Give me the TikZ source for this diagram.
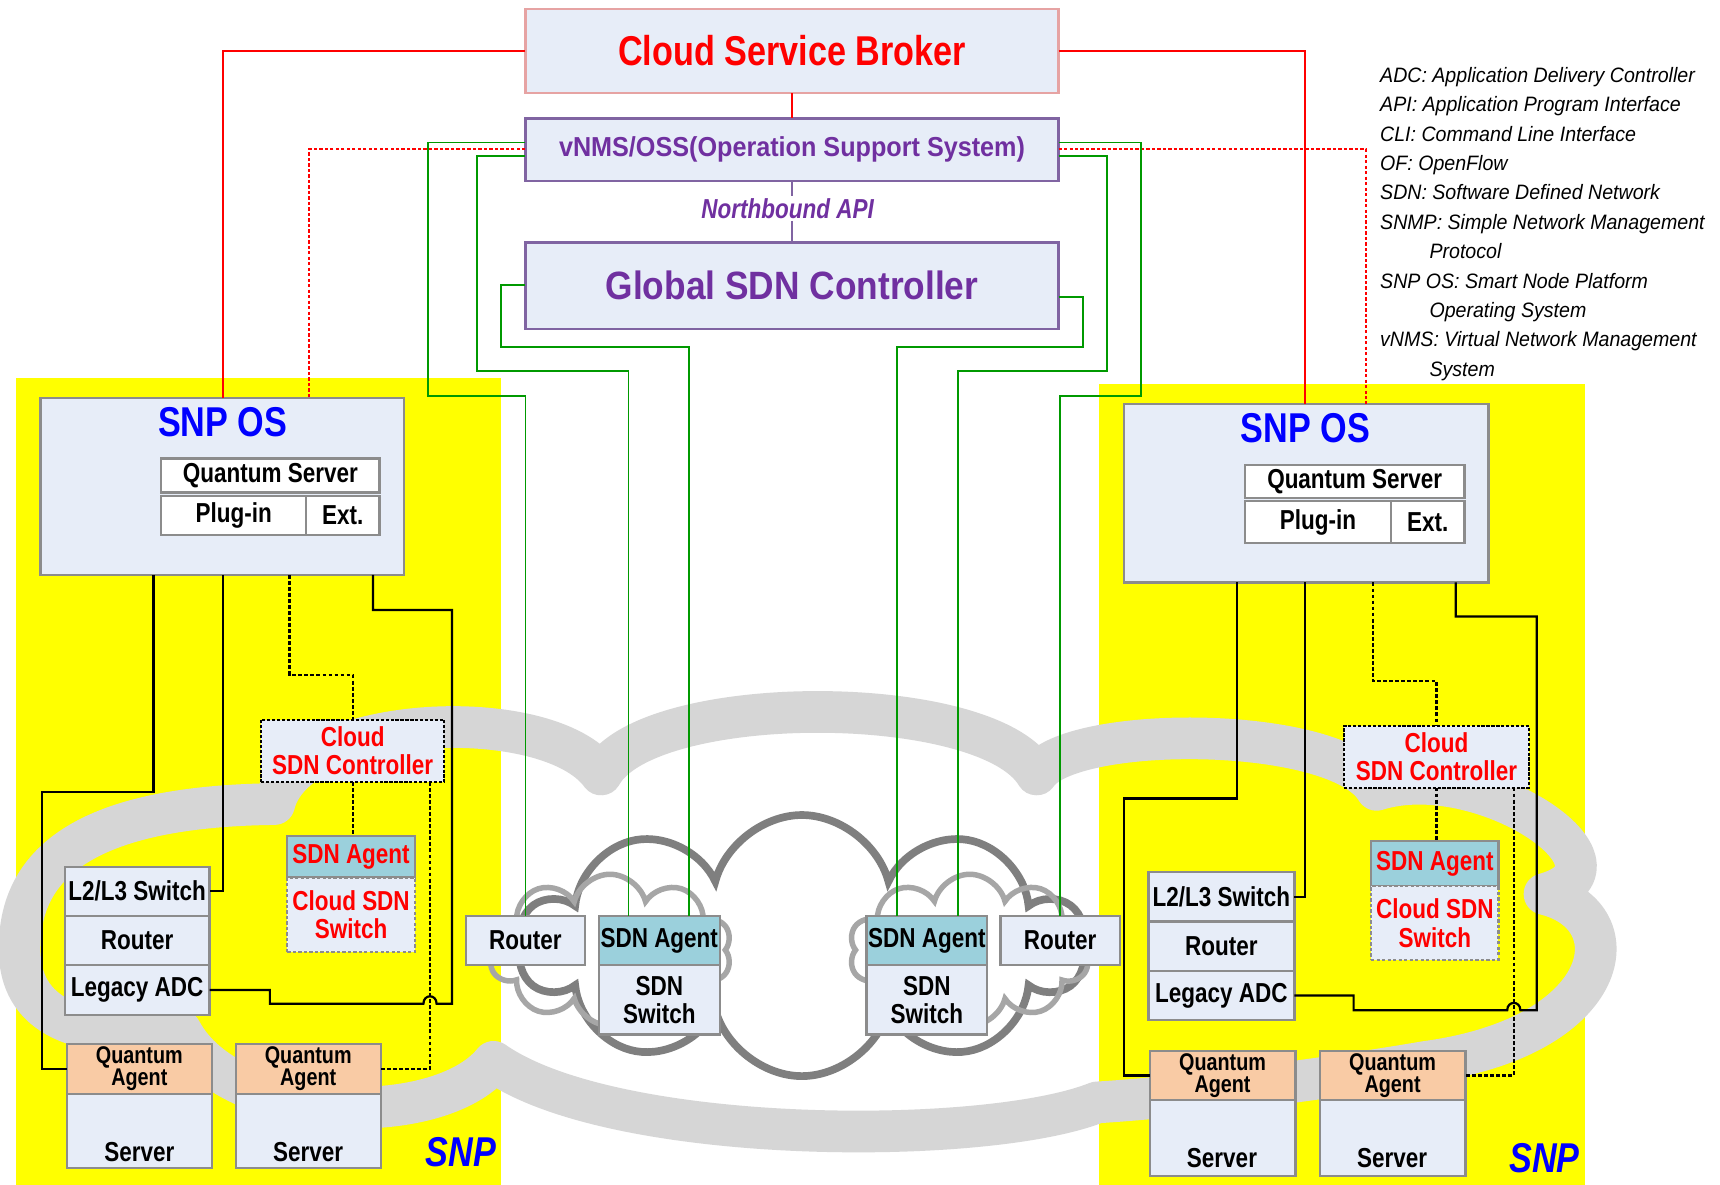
\documentclass[tikz,border=0pt]{standalone}
\usepackage{fontspec}
\setmainfont{Liberation Sans}[FakeStretch=0.82]
\newfontfamily\legendfont{Liberation Sans}[FakeStretch=0.94]
\usetikzlibrary{shapes.symbols}
\definecolor{boxfill}{HTML}{E7EDF8}
\definecolor{boxgray}{HTML}{8C8C8C}
\definecolor{brokerborder}{HTML}{E6A3A3}
\definecolor{purpletext}{HTML}{7030A0}
\definecolor{purpleborder}{HTML}{8064A2}
\definecolor{agentfill}{HTML}{9BD0DC}
\definecolor{qafill}{HTML}{F9CBA5}
\definecolor{ringgray}{HTML}{D6D6D6}
\definecolor{darkcloud}{HTML}{7F7F7F}
\definecolor{lightcloud}{HTML}{A6A6A6}
\definecolor{linkgreen}{HTML}{009900}
\definecolor{snpyellow}{HTML}{FFFF00}
\definecolor{snpblue}{HTML}{0000FF}
\definecolor{linkred}{HTML}{FF0000}
\begin{document}
\begin{tikzpicture}[x=1pt,y=-1pt,
  box/.style={draw=boxgray, line width=2pt, fill=boxfill, inner sep=0pt, outer sep=0pt,
    anchor=north west, align=center, font=\bfseries\fontsize{25}{26}\selectfont},
  sz/.style 2 args={minimum width=#1pt, minimum height=#2pt},
  whitebox/.style={box, fill=white},
  agent/.style={box, fill=agentfill},
  qagent/.style={box, fill=qafill, font=\bfseries\fontsize{22}{20}\selectfont},
  ctrl/.style={box, draw=black, dash pattern=on 3pt off 1.5pt, text=linkred},
  cswitch/.style={box, dash pattern=on 3pt off 2pt, text=linkred},
  lbl/.style={inner sep=0pt, font=\bfseries\fontsize{25}{26}\selectfont},
  ostitle/.style={inner sep=0pt, text=snpblue, font=\bfseries\fontsize{38}{40}\selectfont},
  snplabel/.style={inner sep=0pt, text=snpblue, font=\bfseries\itshape\fontsize{38}{40}\selectfont},
  blk/.style={draw=black, line width=2pt},
  blkdash/.style={draw=black, line width=2pt, dash pattern=on 3.5pt off 2pt},
  grn/.style={draw=linkgreen, line width=1.6pt},
  rd/.style={draw=linkred, line width=1.6pt},
  rddash/.style={draw=linkred, line width=1.6pt, dash pattern=on 3pt off 2pt},
]
\useasboundingbox (0,0) rectangle (1568,1080);
\fill[white] (0,0) rectangle (1568,1080);

% SNP platform areas
\fill[snpyellow] (15,345) rectangle (457,1080);
\fill[snpyellow] (1002,350) rectangle (1445,1080);

% large light-grey cloud ring
\draw[ringgray, line width=38pt, line join=round]
  (165,940) .. controls (60,950) and (15,920) .. (18,860)
  .. controls (20,780) and (90,735) .. (250,733)
  .. controls (270,650) and (500,640) .. (548,706)
  .. controls (590,630) and (900,630) .. (945,706)
  .. controls (975,660) and (1220,660) .. (1255,720)
  .. controls (1350,690) and (1500,790) .. (1408,815)
  .. controls (1490,835) and (1470,945) .. (1300,968)
  .. controls (1200,985) and (1080,1000) .. (1000,1005)
  .. controls (900,1045) and (560,1045) .. (450,968)
  .. controls (400,1030) and (210,1025) .. (165,940) -- cycle;

% core network clouds
\node[cloud, cloud puffs=10, cloud ignores aspect, minimum width=515pt, minimum height=238pt,
  draw=darkcloud, line width=7pt] (corecloud) at (731,862) {};
\node[cloud, cloud puffs=10, cloud ignores aspect, minimum width=222pt, minimum height=138pt,
  draw=lightcloud, line width=5pt] (leftcloud) at (556,866) {};
\node[cloud, cloud puffs=10, cloud ignores aspect, minimum width=220pt, minimum height=138pt,
  draw=lightcloud, line width=5pt] (rightcloud) at (884,866) {};

% top management boxes
\node[box, draw=brokerborder, sz={486}{77}, text=linkred, font=\bfseries\fontsize{38}{40}\selectfont]
  (broker) at (479,8) {Cloud Service Broker};
\node[box, draw=purpleborder, sz={486}{57}, text=purpletext]
  (vnms) at (479,108) {\scalebox{1.12}[1]{vNMS/OSS(Operation Support System)}};
\node[box, draw=purpleborder, sz={486}{79}, text=purpletext, font=\bfseries\fontsize{36}{38}\selectfont]
  (global) at (479,221) {\scalebox{1.09}[1]{Global SDN Controller}};
\node[inner sep=2pt, text=purpletext, font=\bfseries\itshape\fontsize{25}{26}\selectfont]
  (nbapi) at (718,190) {Northbound API};

% legend
\node[anchor=north west, inner sep=0pt, align=left,
  font=\legendfont\itshape\fontsize{19}{26.8}\selectfont] (legend) at (1258,61)
  {ADC: Application Delivery Controller\\
   API: Application Program Interface\\
   CLI: Command Line Interface\\
   OF: OpenFlow\\
   SDN: Software Defined Network\\
   SNMP: Simple Network Management\\
   \hspace*{45pt}Protocol\\
   SNP OS: Smart Node Platform\\
   \hspace*{45pt}Operating System\\
   vNMS: Virtual Network Management\\
   \hspace*{45pt}System};

% left SNP
\node[box, sz={331}{161}] (snpL) at (37,363) {};
\node[ostitle] (snpLtitle) at (203,385) {SNP OS};
\node[whitebox, sz={199}{31}] (qsL) at (147,418) {Quantum Server};
\node[whitebox, sz={132}{36}] (plugL) at (147,452) {Plug-in};
\node[whitebox, sz={67}{36}] (extL) at (279,452) {Ext.};
\node[ctrl, sz={167}{57}] (cscL) at (238,656) {Cloud\\SDN Controller};
\node[agent, sz={116}{38}, text=linkred] (agL) at (262,762) {SDN Agent};
\node[cswitch, sz={116}{68}] (swL) at (262,800) {Cloud SDN\\Switch};
\node[box, sz={132}{45}] (l2l3L) at (59,790) {L2/L3 Switch};
\node[box, sz={132}{45}] (rtL) at (59,835) {Router};
\node[box, sz={132}{45}] (legL) at (59,880) {Legacy ADC};
\node[qagent, sz={132}{45}] (qa1) at (61,952) {Quantum\\Agent};
\node[box, sz={132}{68}] (srv1) at (61,997) {};
\node[lbl] (srv1t) at (127,1050) {Server};
\node[qagent, sz={132}{45}] (qa2) at (215,952) {Quantum\\Agent};
\node[box, sz={132}{68}] (srv2) at (215,997) {};
\node[lbl] (srv2t) at (281,1050) {Server};
\node[snplabel] (snpLlabel) at (420,1050) {SNP};

% right SNP
\node[box, sz={332}{163}] (snpR) at (1025,368) {};
\node[ostitle] (snpRtitle) at (1190,390) {SNP OS};
\node[whitebox, sz={200}{30}] (qsR) at (1135,424) {Quantum Server};
\node[whitebox, sz={133}{38}] (plugR) at (1135,457) {Plug-in};
\node[whitebox, sz={67}{38}] (extR) at (1268,457) {Ext.};
\node[ctrl, sz={169}{56}] (cscR) at (1225,662) {Cloud\\SDN Controller};
\node[agent, sz={116}{41}, text=linkred] (agR) at (1250,767) {SDN Agent};
\node[cswitch, sz={116}{67}] (swR) at (1250,808) {Cloud SDN\\Switch};
\node[box, sz={133}{45}] (l2l3R) at (1047,795) {L2/L3 Switch};
\node[box, sz={133}{45}] (rtR) at (1047,840) {Router};
\node[box, sz={133}{45}] (legR) at (1047,885) {Legacy ADC};
\node[qagent, sz={133}{45}] (qa3) at (1048,958) {Quantum\\Agent};
\node[box, sz={133}{69}] (srv3) at (1048,1003) {};
\node[lbl] (srv3t) at (1114,1056) {Server};
\node[qagent, sz={133}{45}] (qa4) at (1203,958) {Quantum\\Agent};
\node[box, sz={133}{69}] (srv4) at (1203,1003) {};
\node[lbl] (srv4t) at (1269,1056) {Server};
\node[snplabel] (snpRlabel) at (1408,1056) {SNP};

% core network devices
\node[box, sz={108}{45}] (rtML) at (425,835) {Router};
\node[agent, sz={110}{45}] (agML) at (546,835) {SDN Agent};
\node[box, sz={110}{63}] (swML) at (546,880) {SDN\\Switch};
\node[agent, sz={110}{45}] (agMR) at (790,835) {SDN Agent};
\node[box, sz={110}{63}] (swMR) at (790,880) {SDN\\Switch};
\node[box, sz={109}{45}] (rtMR) at (912,835) {Router};

% broker and OSS links
\draw[rd] (broker.south) -- (vnms.north);
\draw[rd] (broker.west) -| (203,0 |- snpL.north);
\draw[rd] (broker.east) -| (1190,0 |- snpR.north);
\draw[rddash] (vnms.west |- 0,136) -| (282,0 |- snpL.north);
\draw[rddash] (vnms.east |- 0,136) -| (1245,0 |- snpR.north);
\draw[draw=purpleborder, line width=1.6pt] (vnms.south) -- (vnms.south |- nbapi.north);
\draw[draw=purpleborder, line width=1.6pt] (global.north |- nbapi.south) -- (global.north);

% control links to core devices
\draw[grn] (vnms.west |- 0,130) -- (390,130) -- (390,361) -| (rtML.north);
\draw[grn] (vnms.west |- 0,142) -- (435,142) -- (435,338) -| (573,0 |- agML.north);
\draw[grn] (global.west |- 0,260) -- (457,260) -- (457,316) -| (628,0 |- agML.north);
\draw[grn] (vnms.east |- 0,130) -- (1040,130) -- (1040,361) -| (rtMR.north);
\draw[grn] (vnms.east |- 0,142) -- (1009,142) -- (1009,338) -| (873,0 |- agMR.north);
\draw[grn] (global.east |- 0,271) -- (987,271) -- (987,316) -| (818,0 |- agMR.north);

% left SNP internal links
\draw[blk] (140,0 |- snpL.south) -- (140,722) -- (38,722) |- (qa1.west);
\draw[blk] (203,0 |- snpL.south) |- (l2l3L.east);
\draw[blkdash] (264,0 |- snpL.south) -- (264,615) -| (cscL.north);
\draw[blk] (340,0 |- snpL.south) -- (340,556) -- (412,556) -- (412,915) -- (398,915)
  .. controls (398,906) and (386,906) .. (386,915) -- (246,915) -- (246,0 |- legL.east) -- (legL.east);
\draw[blkdash] (cscL.south) -- (cscL.south |- agL.north);
\draw[blkdash] (392,0 |- cscL.south) -- (392,0 |- qa2.east) -- (qa2.east);

% right SNP internal links
\draw[blk] (1128,0 |- snpR.south) -- (1128,728) -- (1025,728) |- (qa3.west);
\draw[blk] (1190,0 |- snpR.south) |- (l2l3R.east);
\draw[blkdash] (1252,0 |- snpR.south) -- (1252,621) -| (cscR.north);
\draw[blk] (1327,0 |- snpR.south) -- (1327,562) -- (1401,562) -- (1401,921) -- (1386,921)
  .. controls (1386,912) and (1374,912) .. (1374,921) -- (1234,921) -- (1234,0 |- legR.east) -- (legR.east);
\draw[blkdash] (cscR.south) -- (cscR.south |- agR.north);
\draw[blkdash] (1380,0 |- cscR.south) -- (1380,0 |- qa4.east) -- (qa4.east);
\end{tikzpicture}
\end{document}
